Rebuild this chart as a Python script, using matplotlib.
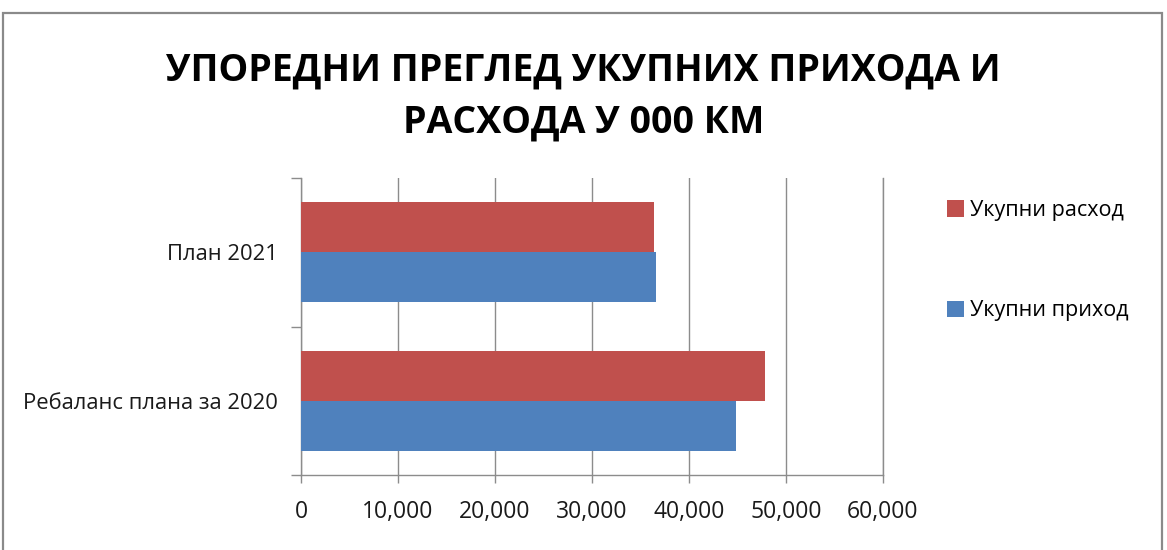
import matplotlib
matplotlib.use("Agg")
import matplotlib.pyplot as plt
from matplotlib.patches import Rectangle, Patch
import matplotlib.ticker as mticker

categories = ["Ребаланс плана за 2020", "План 2021"]
rashod = [47800, 36400]   # Укупни расход
prihod = [44800, 36600]   # Укупни приход
series_names = ["Укупни расход", "Укупни приход"]
xticks = [0, 10000, 20000, 30000, 40000, 50000, 60000]

RED = "#C0504D"
BLUE = "#4F81BD"
GRID = "#8C8C8C"

plt.rcParams['font.family'] = ['Open Sans', 'DejaVu Sans']

W, H = 1167, 550
fig = plt.figure(figsize=(W / 100, H / 100), dpi=100)
fig.patch.set_facecolor("white")

# outer border
fig.patches.append(Rectangle((3 / W, -0.02), (1162 - 3) / W, 1.02 - 13 / H,
                             transform=fig.transFigure, fill=False,
                             edgecolor="#8A8A8A", linewidth=1.6))

ax = fig.add_axes([301 / W, (H - 475) / H, (883 - 301) / W, (475 - 178) / H])

ypos = list(range(len(categories)))
h = 0.337
ax.barh([y + h / 2 for y in ypos], rashod, height=h, color=RED, label=series_names[0], zorder=3)
ax.barh([y - h / 2 for y in ypos], prihod, height=h, color=BLUE, label=series_names[1], zorder=3)

ax.set_xlim(0, 60000)
ax.set_ylim(-0.5, 1.5)
ax.set_xticks(xticks)
ax.xaxis.set_major_formatter(mticker.FuncFormatter(lambda v, p: f"{int(v):,}"))
ax.grid(axis="x", color=GRID, linewidth=1.0, zorder=0)
ax.axvline(xticks[-1], color=GRID, linewidth=1.0, zorder=0, clip_on=False)
ax.set_axisbelow(True)

ax.set_yticks([-0.5, 0.5, 1.5])
ax.set_yticklabels([])
ax.set_yticks(ypos, minor=True)
ax.set_yticklabels(categories, minor=True)
ax.tick_params(axis="y", which="major", length=7, width=1.0, color=GRID, direction="out")
ax.tick_params(axis="y", which="minor", length=0, pad=17, labelsize=15.8, labelcolor="#1a1a1a")
ax.tick_params(axis="x", length=6, width=1.0, color=GRID, labelsize=16.5, labelcolor="#1a1a1a", pad=12)

for s in ["top", "right"]:
    ax.spines[s].set_visible(False)
for s in ["left", "bottom"]:
    ax.spines[s].set_color(GRID)
    ax.spines[s].set_linewidth(1.0)

fig.text(0.5, 1 - 71 / H, "УПОРЕДНИ ПРЕГЛЕД УКУПНИХ ПРИХОДА И",
         ha="center", va="center", fontsize=27, fontweight="bold", color="black")
fig.text(0.5, 1 - 123 / H, "РАСХОДА У 000 КМ",
         ha="center", va="center", fontsize=27, fontweight="bold", color="black")

handles = [Patch(facecolor=RED), Patch(facecolor=BLUE)]
fig.legend(handles, series_names, loc="upper left", bbox_to_anchor=(936 / W, 1 - 189 / H),
           frameon=False, fontsize=15.5, labelspacing=3.7, handlelength=0.8, handleheight=0.8,
           handletextpad=0.3, borderpad=0)

fig.savefig("out.png", dpi=100, facecolor="white")
